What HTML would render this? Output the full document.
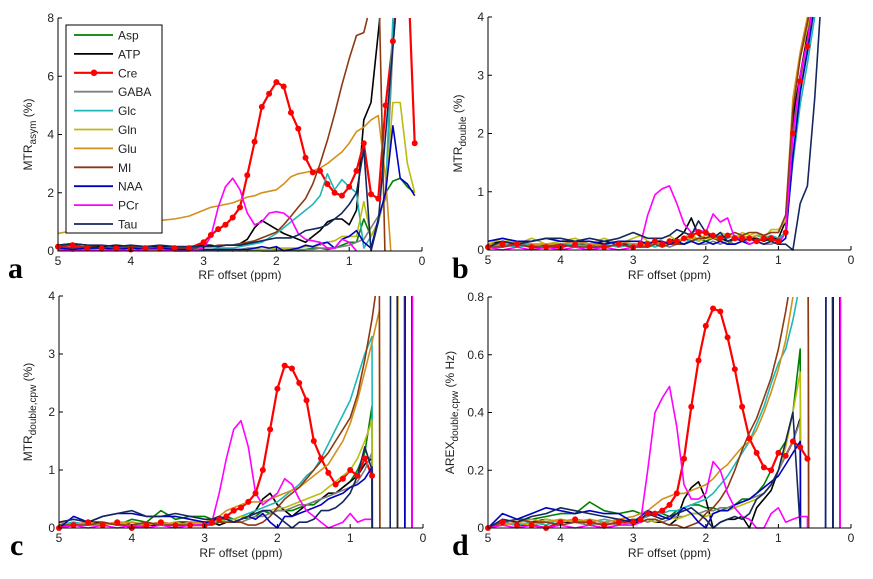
<!DOCTYPE html>
<html><head><meta charset="utf-8"><style>
html,body{margin:0;padding:0;background:#fff;width:873px;height:579px;overflow:hidden;}
svg{display:block;font-family:"Liberation Sans",sans-serif;}
</style></head><body>
<svg id="fig" width="873" height="579" viewBox="0 0 873 579" xmlns="http://www.w3.org/2000/svg"></svg>
<script>
// shared RF offset grid (ppm)
const offsets = [5,4.8,4.6,4.4,4.2,4.0,3.8,3.6,3.4,3.2,3.0, 2.9,2.8,2.7,2.6,2.5,2.4,2.3,2.2,2.1,2.0, 1.9,1.8,1.7,1.6,1.5,1.4,1.3,1.2,1.1,1.0, 0.9,0.8,0.7,0.6,0.5,0.4,0.3,0.2,0.1];
const seriesNames = ["Asp","ATP","Cre","GABA","Glc","Gln","Glu","MI","NAA","PCr","Tau"];
const seriesColors = ["#008000","#000000","#ff0000","#808080","#1fb8b8","#bcbc10","#d4901c","#8b3a12","#0000c0","#ff00ff","#14285e"];
const xTicks = [5,4,3,2,1,0];
const yTicksA = [0,2,4,6,8];
const yTicksB = [0,1,2,3,4];
const yTicksC = [0,1,2,3,4];
const yTicksD = [0,0.2,0.4,0.6,0.8];
const yTickLabelsD = ["0","0.2","0.4","0.6","0.8"];

// Panel a: MTRasym
const A_Asp=[0.1,0.05,0.1,0.05,0.1,0.05,0.1,0.05,0.05,0.1,0.05, 0.05,0,0.05,0,0.05,0,0.05,0,0,0, 0.05,0.05,0,0.05,0.1,0.1,0.05,0.1,0.2,0.3, 0.3,1.1,0.5,1.0,2.0,2.4,2.5,2.2,2.0];
const A_ATP=[0.2,0.25,0.2,0.15,0.2,0.15,0.1,0.15,0.1,0.15,0.2, 0.2,0.15,0.2,0.2,0.25,0.4,0.8,1.05,0.9,0.75, 0.6,0.5,0.4,0.3,0.5,0.7,1.0,1.1,1.1,0.9, 1.4,4.5,5.1,7.5,10,10,10,10,10];
const A_Cre=[0.15,0.2,0.1,0.1,0.1,0.05,0.1,0.1,0.1,0.1,0.3, 0.55,0.75,0.9,1.15,1.5,2.6,3.75,4.95,5.4,5.8, 5.65,4.75,4.2,3.2,2.7,2.75,2.3,2.0,1.9,2.2, 2.75,3.7,1.95,1.8,5.0,7.2,10,10,3.7];
const A_GABA=[0.05,0.1,0.05,0.05,0.1,0.05,0.05,0.1,0.05,0.05,0.05, 0.05,0.05,0.1,0.05,0.05,0.1,0.1,0.05,0.05,0.05, 0.05,0.05,0.05,0.05,0.05,0.1,0.1,0.1,0.15,0.2, 0.3,0.4,0.8,1.2,1.8,7,10,10,10];
const A_Glc=[0.05,0.05,0.05,0.05,0.05,0.05,0.05,0.05,0.05,0.05,0.05, 0.05,0.1,0.1,0.1,0.15,0.2,0.25,0.3,0.45,0.6, 0.8,1.0,1.2,1.4,1.6,1.9,2.65,2.1,2.45,2.2, 2.0,0.1,0.5,1.0,2.0,8,10,10,10];
const A_Gln=[0.05,0,0.05,0.05,0,0.05,0.05,0,0.05,0.05,0.05, 0.05,0.05,0.05,0.05,0,0.05,0.05,0.05,0.05,0.1, 0.1,0.1,0.1,0.15,0.15,0.2,0.3,0.35,0.5,0.5, 0.5,1.7,0.5,1.0,2.0,5.1,5.1,3.0,2.0];
const A_Glu=[0.6,0.7,0.75,0.85,0.9,0.95,1.0,1.05,1.1,1.2,1.4, 1.5,1.55,1.6,1.65,1.75,1.85,1.9,2.0,2.05,2.1, 2.3,2.55,2.65,2.7,2.75,2.85,3.0,3.2,3.4,3.7, 4.1,4.25,4.5,4.65,2.5,-1,-1,-1,-1];
const A_MI=[0.15,0.1,0.15,0.1,0.1,0.15,0.1,0.1,0.1,0.1,0.15, 0.15,0.2,0.2,0.2,0.25,0.3,0.35,0.45,0.55,0.65, 0.9,1.2,1.5,1.8,2.3,3.0,3.8,4.7,5.7,6.6, 7.4,7.5,8.5,10,-1,-1,-1,-1,-1];
const A_NAA=[0.1,0.05,0.1,0.1,0.05,0.1,0.05,0.1,0.05,0.05,0.05, 0.05,0.05,0.05,0.05,0.05,0.05,0.1,0.15,0.1,0.15, 0,0.05,0.1,0.2,0.15,0.25,0.3,0.1,0.4,0.5, 0.7,0.3,0.1,1.1,2.0,4.3,2.5,2.3,1.9];
const A_PCr=[0.05,0,0.05,0,0.05,0,0.05,0.05,0,0,0.1, 0.5,1.5,2.2,2.5,2.1,1.3,0.9,1.0,1.3,1.35, 1.3,1.1,0.6,0.4,0.35,0.3,0.1,0.1,0.4,0.3, 0,null,null,null,null,null,null,null,null];
const A_Tau=[0.2,0.25,0.2,0.2,0.15,0.2,0.15,0.2,0.15,0.15,0.15, 0.15,0.15,0.2,0.2,0.2,0.25,0.3,0.35,0.4,0.45, 0.45,0.45,0.55,0.7,0.75,0.8,0.9,1.1,1.3,1.6, 2.0,3.5,0,1.0,4.0,7.0,10,10,10];

// Panel b: MTRdouble
const B_Asp=[0.05,0.1,0.05,0.1,0.1,0.05,0.1,0.1,0.05,0.1,0.1, 0.1,0.15,0.1,0.1,0.15,0.1,0.2,0.15,0.2,0.15, 0.2,0.15,0.1,0.2,0.15,0.2,0.15,0.2,0.15,0.2, 0.3,2.2,3.0,3.6,4.5,5,5,5,5];
const B_ATP=[0.1,0.15,0.1,0.05,0.1,0.1,0.05,0.1,0.15,0.1,0.1, 0.1,0.05,0.1,0.1,0.15,0.2,0.3,0.55,0.25,0.2, 0.25,0.2,0.15,0.2,0.25,0.2,0.2,0.15,0.2,0.2, 0.5,2.3,3.0,3.7,4.5,5,5,5,5];
const B_Cre=[0.05,0.1,0.1,0.05,0.05,0.05,0.1,0.05,0.05,0.1,0.05, 0.1,0.1,0.15,0.1,0.15,0.15,0.2,0.25,0.3,0.3, 0.25,0.2,0.25,0.2,0.2,0.2,0.15,0.2,0.2,0.15, 0.3,2.0,2.9,3.5,4.3,5,5,5,5];
const B_GABA=[0.1,0.05,0.1,0.1,0.05,0.1,0.05,0.1,0.1,0.05,0.1, 0.05,0.1,0.1,0.1,0.05,0.1,0.1,0.15,0.1,0.1, 0.15,0.1,0.15,0.1,0.15,0.1,0.15,0.1,0.1,0.15, 0.3,1.9,2.8,3.5,4.3,5,5,5,5];
const B_Glc=[0.05,0.1,0.05,0.1,0.05,0.1,0.1,0.05,0.1,0.05,0.1, 0.1,0.1,0.05,0.1,0.1,0.15,0.1,0.2,0.15,0.2, 0.2,0.25,0.2,0.25,0.2,0.2,0.25,0.2,0.25,0.2, 0.3,1.5,2.5,3.2,4.0,5,5,5,5];
const B_Gln=[0.1,0.2,0.1,0.2,0.1,0.15,0.2,0.1,0.2,0.1,0.2, 0.25,0.15,0.1,0.2,0.25,0.15,0.2,0.3,0.15,0.2, 0.2,0.3,0.25,0.2,0.3,0.25,0.3,0.2,0.35,0.35, 0.5,2.5,3.3,3.8,4.6,5,5,5,5];
const B_Glu=[0.1,0.1,0.15,0.1,0.1,0.1,0.15,0.1,0.1,0.15,0.1, 0.1,0.1,0.15,0.1,0.1,0.15,0.2,0.2,0.2,0.25, 0.2,0.2,0.25,0.2,0.25,0.2,0.25,0.25,0.3,0.3, 0.6,2.6,3.4,4.0,4.8,5,5,5,5];
const B_MI=[0.05,0.05,0.1,0.05,0.05,0.1,0.05,0.05,0.05,0.1,0.05, 0.05,0.05,0.1,0.05,0.1,0.1,0.1,0.15,0.2,0.2, 0.25,0.2,0.25,0.3,0.25,0.3,0.3,0.25,0.3,0.3, 0.6,2.4,3.3,3.9,4.6,5,5,5,5];
const B_NAA=[0.15,0.2,0.15,0.15,0.2,0.15,0.15,0.15,0.1,0.15,0.15, 0.15,0.1,0.15,0.15,0.1,0.15,0.1,0.15,0.1,0.15, 0.1,0.15,0.1,0.1,0.15,0.1,0.15,0.1,0.15,0.1, 0.2,1.6,2.7,3.4,4.2,5,5,5,5];
const B_PCr=[0.05,0,0.05,0,0.05,0,0.05,0,0.05,0,0.05, 0.1,0.6,0.95,1.05,1.1,0.8,0.45,0.3,0.35,0.3, 0.62,0.48,0.55,0.2,0.2,0.1,0.15,0.1,0.15,0.1, 0.3,2.0,3.0,3.6,4.4,5,5,5,5];
const B_Tau=[0.05,0.15,0.1,0.15,0.2,0.2,0.15,0.2,0.15,0.2,0.3, 0.25,0.2,0.2,0.2,0.25,0.35,0.3,0.25,0.5,0.3, 0.2,0.3,0.15,0.2,0.15,0.2,0.15,0.1,0.15,0.1, 0.1,0,0.8,1.1,2.6,4.5,5,5,5];

// Panel c: MTRdouble,cpw
const C_Asp=[0.05,0.1,0.05,0.1,0.05,0.15,0.1,0.3,0.15,0.2,0.2, 0.15,0.1,0.2,0.15,0.2,0.15,0.2,0.3,0.25,0.3, 0.3,0.3,0.35,0.4,0.4,0.5,0.55,0.6,0.7,0.8, 1.0,1.3,2.1,-50,-50,-50,-50,50,-50];
const C_ATP=[0.1,0.05,0.1,0.1,0.05,0.1,0.05,0.05,0.1,0.1,0.1, 0.1,0.05,0.1,0.1,0.15,0.2,0.3,0.5,0.6,0.4, 0.3,0.2,0.3,0.4,0.45,0.5,0.6,0.6,0.7,0.8, 0.9,1.1,1.2,-50,-50,-50,50,-50,-50];
const C_Cre=[0,0.05,0.1,0.05,0.1,0,0.05,0.1,0.05,0.05,0.05, 0.1,0.15,0.2,0.3,0.35,0.45,0.6,1.0,1.7,2.4, 2.8,2.75,2.5,2.2,1.5,1.2,0.95,0.75,0.85,1.0, 0.9,1.2,0.9,null,null,null,null,null,null];
const C_GABA=[0.05,0.05,0.1,0.05,0.1,0.05,0.1,0.05,0.05,0.1,0.05, 0.1,0.1,0.1,0.15,0.1,0.15,0.2,0.2,0.25,0.3, 0.3,0.35,0.4,0.4,0.45,0.5,0.55,0.6,0.65,0.7, 0.8,1.0,1.3,-50,-50,-50,-50,-50,50];
const C_Glc=[0.05,0.1,0.05,0.05,0.1,0.05,0.05,0.1,0.05,0.05,0.1, 0.1,0.1,0.15,0.15,0.2,0.25,0.3,0.35,0.4,0.45, 0.55,0.65,0.75,0.9,1.0,1.2,1.45,1.7,1.95,2.2, 2.6,3.0,3.3,-50,-50,-50,-50,-50,-50];
const C_Gln=[0.05,0.05,0.1,0.05,0.1,0.05,0.1,0.05,0.1,0.05,0.1, 0.1,0.15,0.1,0.15,0.2,0.2,0.25,0.3,0.3,0.35, 0.35,0.4,0.45,0.5,0.55,0.6,0.7,0.8,0.9,1.0, 1.2,1.5,1.85,-50,-50,-50,-50,-50,-50];
const C_Glu=[0.1,0.05,0.1,0.05,0.1,0.1,0.05,0.1,0.05,0.1,0.1, 0.15,0.2,0.3,0.35,0.4,0.45,0.45,0.45,0.5,0.55, 0.6,0.65,0.7,0.8,0.9,1.0,1.1,1.3,1.5,1.8, 2.2,2.7,3.2,3.75,-50,-50,50,-50,-50];
const C_MI=[0.05,0.05,0.05,0.1,0.05,0.05,0.1,0.05,0.05,0.05,0.05, 0.05,0.1,0.1,0.1,0.1,0.05,0.05,0.1,0.2,0.35, 0.5,0.6,0.7,0.85,1.0,1.15,1.3,1.5,1.7,1.9, 2.3,2.9,3.6,4.5,-50,-50,-50,50,-50];
const C_NAA=[0,0.2,0.1,0.2,0.25,0.25,0.2,0.2,0.2,0.15,0.1, 0.1,0.2,0.15,0.1,0.15,0.2,0.15,0.25,0.1,0.0, 0.2,0.2,0.25,0.3,0.35,0.4,0.5,0.55,0.6,0.7, 0.75,0.85,1.05,-50,-50,-50,-50,50,-50];
const C_PCr=[0,0.05,0,0.05,0,0.05,0,0.05,0,0.05,0.05, 0.1,0.6,1.2,1.7,1.85,1.4,0.6,0.4,0.5,0.6, 0.85,0.75,0.5,0.3,0.2,0.1,0,0.05,0.1,0.25, 0.1,0.15,0.15,-50,-50,-50,-50,-50,50];
const C_Tau=[0.1,0.15,0.1,0.2,0.25,0.3,0.2,0.2,0.25,0.2,0.15, 0.15,0.2,0.15,0.1,0.15,0.2,0.25,0.3,0.3,0.2, 0.1,0,0.1,0.1,0.15,0.3,0.3,0.35,0.45,0.6, 0.9,1.4,1.0,-50,-50,50,-50,-50,-50];

// Panel d: AREXdouble,cpw
const D_Asp=[0,0.02,0.03,0.03,0.04,0.05,0.05,0.09,0.06,0.05,0.06, 0.05,0.06,0.05,0.05,0.04,0.06,0.07,0.08,0.08,0.07, 0.07,0.06,0.07,0.08,0.1,0.1,0.12,0.15,0.2,0.26, 0.3,0.4,0.62,-10,-10,-10,-10,10,-10];
const D_ATP=[0,0.02,0.01,0.02,0.03,0.02,0.02,0.01,0,0.01,0.02, 0.02,0.03,0.02,0.02,0.01,0.03,0.1,0.14,0.16,0.1, 0,0.02,0.03,0.03,0.04,0,0.07,0.1,0.13,0.2, 0.25,0.3,0.38,-10,-10,-10,-10,10,-10];
const D_Cre=[0,0.02,0.01,0.01,0,0.02,0.03,0.02,0.01,0.02,0.02, 0.03,0.05,0.05,0.06,0.08,0.12,0.24,0.42,0.58,0.7, 0.76,0.75,0.66,0.55,0.42,0.31,0.26,0.21,0.2,0.26, 0.25,0.3,0.28,0.24,null,null,null,null,null];
const D_GABA=[0,0.01,0.02,0.01,0.02,0.03,0.02,0.01,0.02,0.01,0.02, 0.03,0.02,0.03,0.02,0.03,0.04,0.04,0.05,0.05,0.06, 0.06,0.07,0.07,0.08,0.09,0.1,0.11,0.12,0.15,0.2, 0.25,0.3,0.37,-10,-10,-10,-10,-10,10];
const D_Glc=[0,0.02,0.01,0.02,0.01,0.03,0.02,0.02,0.03,0.02,0.03, 0.03,0.04,0.05,0.05,0.06,0.06,0.07,0.08,0.09,0.1, 0.12,0.15,0.18,0.22,0.26,0.3,0.36,0.42,0.5,0.57, 0.62,0.72,0.85,2,-10,-10,-10,-10,-10];
const D_Gln=[0,0.01,0.02,0.01,0.03,0.02,0.03,0.02,0.01,0.02,0.03, 0.02,0.03,0.02,0.03,0.04,0.03,0.04,0.05,0.05,0.04, 0.05,0.06,0.06,0.07,0.08,0.09,0.1,0.12,0.15,0.2, 0.28,0.4,0.54,-10,-10,-10,-10,-10,-10];
const D_Glu=[0,0.01,0.02,0.03,0.02,0.03,0.02,0.03,0.02,0.03,0.04, 0.05,0.06,0.08,0.1,0.11,0.12,0.12,0.13,0.14,0.15, 0.17,0.2,0.22,0.25,0.28,0.3,0.34,0.4,0.47,0.55, 0.65,0.8,1.0,2,-10,-10,-10,-10,-10];
const D_MI=[0,0.02,0.03,0.02,0.02,0.01,0.02,0.02,0.01,0.02,0.03, 0.02,0.03,0.03,0.02,0.01,0.01,0.0,0.01,0.02,0.05, 0.07,0.1,0.14,0.2,0.27,0.33,0.38,0.45,0.52,0.62, 0.75,0.9,1.2,2,-10,-10,-10,-10,-10];
const D_NAA=[0,0.05,0.03,0.05,0.07,0.06,0.05,0.06,0.05,0.05,0.02, 0.04,0.06,0.05,0.04,0.03,0.05,0.07,0.05,0.02,0.0, 0.05,0.06,0.06,0.08,0.09,0.1,0.12,0.14,0.16,0.18, 0.22,0.26,0.3,-10,-10,-10,10,-10,-10];
const D_PCr=[0,0.01,0,0.01,0,0.01,0,0.01,0,0.01,0.01, 0.02,0.2,0.4,0.45,0.49,0.35,0.15,0.1,0.1,0.12, 0.23,0.2,0.12,0.07,0.04,0.03,0,0,0.05,0.07, 0.02,0.03,0.04,0.04,-10,-10,-10,-10,10];
const D_Tau=[0,0.03,0.02,0.04,0.05,0.07,0.06,0.05,0.04,0.03,0.02, 0.03,0.05,0.04,0.03,0.04,0.05,0.06,0.07,0.05,0.03, 0.0,0.02,0.03,0.04,0.03,0.05,0.1,0.12,0.15,0.2, 0.3,0.4,0,-10,-10,-10,10,-10,-10];

const SVGNS = "http://www.w3.org/2000/svg";
const svg = document.getElementById("fig");
function mk(tag, attrs, parent){
  const e = document.createElementNS(SVGNS, tag);
  for (const k in attrs) e.setAttribute(k, attrs[k]);
  (parent||svg).appendChild(e);
  return e;
}
// clip a segment to y range [lo, hi] (pixel coords); returns null or [x1,y1,x2,y2]
function clipSeg(x1, y1, x2, y2, lo, hi){
  let t0 = 0, t1 = 1;
  const dy = y2 - y1;
  if (dy === 0){ if (y1 < lo || y1 > hi) return null; }
  else {
    let ta = (lo - y1) / dy, tb = (hi - y1) / dy;
    if (ta > tb){ const tmp = ta; ta = tb; tb = tmp; }
    t0 = Math.max(t0, ta); t1 = Math.min(t1, tb);
    if (t0 > t1) return null;
  }
  return [x1 + (x2 - x1) * t0, y1 + dy * t0, x1 + (x2 - x1) * t1, y1 + dy * t1];
}

const panels = [
  {id:"a", x0:58, x1:422, yTop:18, yBot:251, yMax:8, ticks:yTicksA, labels:null,
   data:[A_Asp,A_ATP,A_Cre,A_GABA,A_Glc,A_Gln,A_Glu,A_MI,A_NAA,A_PCr,A_Tau],
   ylab:["MTR","asym"," (%)"], ylx:32, letter:[8,278], xlabY:270},
  {id:"b", x0:488, x1:851, yTop:17, yBot:250, yMax:4, ticks:yTicksB, labels:null,
   data:[B_Asp,B_ATP,B_Cre,B_GABA,B_Glc,B_Gln,B_Glu,B_MI,B_NAA,B_PCr,B_Tau],
   ylab:["MTR","double"," (%)"], ylx:462, letter:[452,278], xlabY:270},
  {id:"c", x0:59, x1:423, yTop:296, yBot:528, yMax:4, ticks:yTicksC, labels:null,
   data:[C_Asp,C_ATP,C_Cre,C_GABA,C_Glc,C_Gln,C_Glu,C_MI,C_NAA,C_PCr,C_Tau],
   ylab:["MTR","double,cpw"," (%)"], ylx:32, letter:[10,555], xlabY:548},
  {id:"d", x0:488, x1:851, yTop:297, yBot:528, yMax:0.8, ticks:yTicksD, labels:yTickLabelsD,
   data:[D_Asp,D_ATP,D_Cre,D_GABA,D_Glc,D_Gln,D_Glu,D_MI,D_NAA,D_PCr,D_Tau],
   ylab:["AREX","double,cpw"," (% Hz)"], ylx:454, letter:[452,555], xlabY:548}
];

panels.forEach(function(p){
  const g = mk("g", {});
  
  
  const xs = function(v){ return p.x0 + (5 - v) / 5 * (p.x1 - p.x0); };
  const ys = function(v){ return p.yBot - v / p.yMax * (p.yBot - p.yTop); };
  const plot = mk("g", {}, g);
  
  
  p.data.forEach(function(arr, si){
    let d = "", lastX = null, lastY = null;
    for (let i = 0; i + 1 < offsets.length; i++){
      const a = arr[i], b = arr[i+1];
      if (a === null || b === null || a === undefined || b === undefined) continue;
      const s = clipSeg(xs(offsets[i]), ys(a), xs(offsets[i+1]), ys(b), p.yTop, p.yBot);
      if (!s) continue;
      if (lastX !== null && Math.abs(lastX - s[0]) < 0.01 && Math.abs(lastY - s[1]) < 0.01){
        d += "L" + s[2].toFixed(1) + " " + s[3].toFixed(1);
      } else {
        d += "M" + s[0].toFixed(1) + " " + s[1].toFixed(1) + "L" + s[2].toFixed(1) + " " + s[3].toFixed(1);
      }
      lastX = s[2]; lastY = s[3];
    }
    const path = mk("path", {d:d, fill:"none", stroke:seriesColors[si], "stroke-width": si === 2 ? 2.2 : 1.6, "stroke-linejoin":"round"}, plot);
    
    
  });
  const cre = p.data[2];
  for (let i = 0; i < offsets.length; i++){
    const v = cre[i];
    if (v === null || v === undefined || v < 0 || v > p.yMax) continue;
    const c = mk("circle", {cx:xs(offsets[i]), cy:ys(v), r:3, fill:"#ff0000"}, plot);
    
    
  }
  const ax = mk("path", {d:"M"+p.x0+" "+p.yTop+"V"+p.yBot+"H"+p.x1, fill:"none", stroke:"#000", "stroke-width":1}, g);
  
  
  xTicks.forEach(function(t){
    const x = xs(t);
    mk("line", {x1:x, x2:x, y1:p.yBot, y2:p.yBot-4, stroke:"#000"}, g);
    const tx = mk("text", {x:x, y:p.yBot+14, "text-anchor":"middle", "font-size":12, fill:"#222"}, g);
    tx.textContent = String(t);
    
    
  });
  p.ticks.forEach(function(t, k){
    const y = ys(t);
    mk("line", {x1:p.x0, x2:p.x0+4, y1:y, y2:y, stroke:"#000"}, g);
    const tx = mk("text", {x:p.x0-4, y:y+4, "text-anchor":"end", "font-size":12, fill:"#222"}, g);
    tx.textContent = p.labels ? p.labels[k] : String(t);
    
    
  });
  const xl = mk("text", {x:(p.x0+p.x1)/2, y:p.xlabY+9, "text-anchor":"middle", "font-size":12, fill:"#222"}, g);
  xl.textContent = "RF offset (ppm)";
  
  
  const cy = (p.yTop + p.yBot) / 2;
  const yl = mk("text", {x:0, y:0, "text-anchor":"middle", "font-size":12, fill:"#222", transform:"translate("+p.ylx+","+cy+") rotate(-90)"}, g);
  
  
  const t1 = mk("tspan", {}, yl); t1.textContent = p.ylab[0];
  const t2 = mk("tspan", {"font-size":10, dy:4}, yl); t2.textContent = p.ylab[1];
  const t3 = mk("tspan", {dy:-4}, yl); t3.textContent = p.ylab[2];
  const lt = mk("text", {x:p.letter[0], y:p.letter[1], "font-family":"'Liberation Serif',serif", "font-weight":"bold", "font-size":30, fill:"#000"}, g);
  lt.textContent = p.id;
  
  
});

const lg = mk("g", {});


mk("rect", {x:66, y:25, width:96, height:208, fill:"#fff", stroke:"#000", "stroke-width":1}, lg);
seriesNames.forEach(function(n, i){
  const y = 35 + i * 18.9;
  const ln = mk("line", {x1:74, x2:113, y1:y, y2:y, stroke:seriesColors[i], "stroke-width": i === 2 ? 2.2 : 1.8}, lg);
  
  
  if (i === 2){ mk("circle", {cx:94, cy:y, r:3.3, fill:"#ff0000"}, lg); }
  const t = mk("text", {x:118, y:y+4.5, "font-size":12, fill:"#222"}, lg);
  t.textContent = n;
  
  
});
</script>
</body></html>
